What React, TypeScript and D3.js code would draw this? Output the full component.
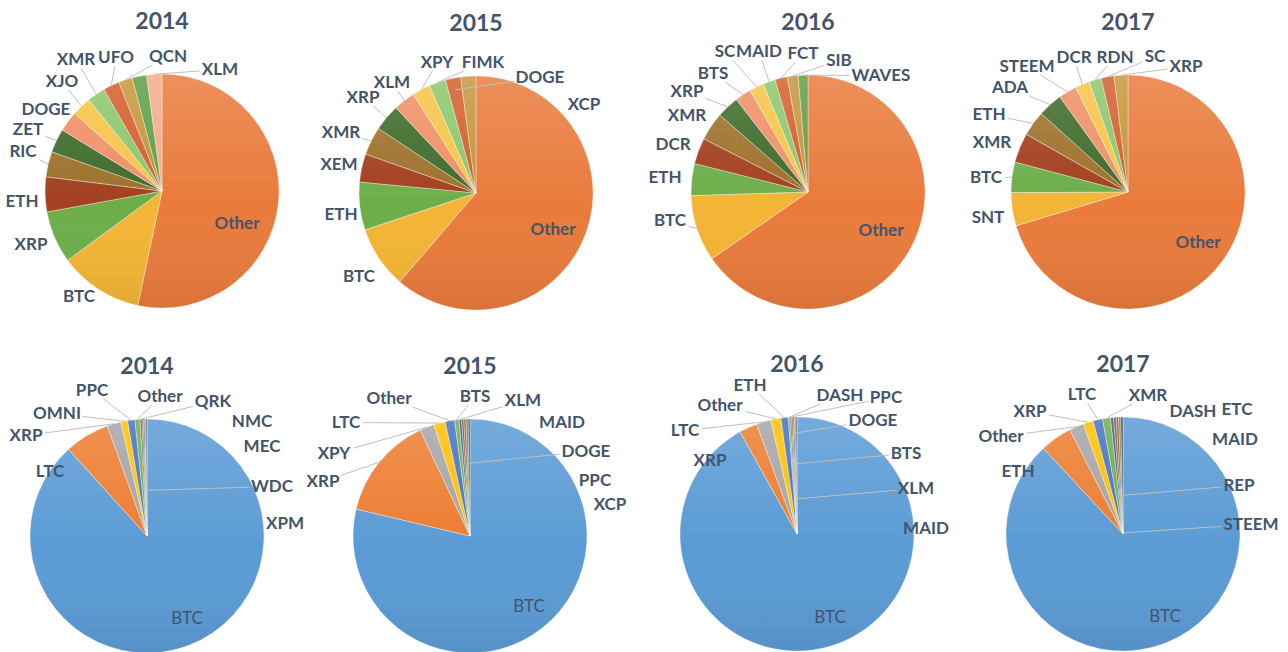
import React, { useEffect, useRef } from 'react';
import * as d3 from 'd3';

// titles
const years = ['2014', '2015', '2016', '2017'];

// top row - share of each coin (percent)
const top2014Names = ['Other', 'BTC', 'XRP', 'ETH', 'RIC', 'ZET', 'DOGE', 'XJO', 'XMR', 'UFO', 'QCN', '', 'XLM'];
const top2014Values = [53.3, 11.6, 7.2, 4.8, 3.5, 3.3, 2.8, 2.7, 2.5, 2.25, 1.9, 2.0, 2.1];

const top2015Names = ['Other', 'BTC', 'ETH', 'XEM', 'XMR', 'XRP', 'XLM', 'XPY', 'FIMK', 'DOGE', 'XCP'];
const top2015Values = [61.3, 8.6, 6.6, 3.9, 3.9, 3.7, 3.0, 2.5, 2.3, 2.1, 2.1];

const top2016Names = ['Other', 'BTC', 'ETH', 'DCR', 'XMR', 'XRP', 'BTS', 'SC', 'MAID', 'FCT', 'SIB', 'WAVES'];
const top2016Values = [65.4, 9.2, 4.4, 3.6, 3.9, 3.1, 2.25, 2.0, 1.7, 1.7, 1.5, 1.35];

const top2017Names = ['Other', 'SNT', 'BTC', 'XMR', 'ETH', 'ADA', 'STEEM', 'DCR', 'RDN', 'SC', 'XRP'];
const top2017Values = [70.4, 4.6, 4.2, 4.1, 3.5, 3.4, 2.5, 2.0, 1.7, 1.8, 1.9];

// bottom row
const bot2014Names = ['BTC', 'LTC', 'XRP', 'OMNI', 'PPC', 'Other', 'QRK', 'NMC', 'MEC', 'WDC', 'XPM'];
const bot2014Values = [88.3, 6.2, 1.9, 0.95, 1.0, 0.7, 0.25, 0.2, 0.2, 0.15, 0.15];

const bot2015Names = ['BTC', 'XRP', 'XPY', 'LTC', 'Other', 'BTS', 'XLM', 'MAID', 'DOGE', 'PPC', 'XCP'];
const bot2015Values = [78.7, 14.3, 2.0, 1.6, 1.3, 0.6, 0.35, 0.3, 0.3, 0.3, 0.25];

const bot2016Names = ['BTC', 'XRP', 'LTC', 'Other', 'ETH', 'DASH', 'PPC', 'DOGE', 'BTS', 'XLM', 'MAID'];
const bot2016Values = [91.9, 2.5, 2.0, 1.4, 1.0, 0.25, 0.2, 0.2, 0.2, 0.2, 0.15];

const bot2017Names = ['BTC', 'ETH', 'Other', 'XRP', 'LTC', 'XMR', 'DASH', 'ETC', 'MAID', 'REP', 'STEEM'];
const bot2017Values = [88.1, 4.4, 2.0, 1.4, 1.3, 1.1, 0.4, 0.35, 0.35, 0.3, 0.3];

const topColors = ['#E97B3C', '#F3B535', '#6DAE4A', '#A3401F', '#9E712B', '#3F6B2B', '#F08F66',
    '#F7C447', '#8DC66C', '#D45F2C', '#C4963A', '#5F9E45', '#F3AC8C'];
const bottomColors = ['#5B9BD5', '#ED7D31', '#A5A5A5', '#FFC000', '#4472C4', '#70AD47',
    '#255E91', '#9E480E', '#636363', '#997300', '#264478'];

// label layout: [dx, dy] from pie centre, and leader (0 none, else depth along the slice as fraction of radius)
const top2014Layout = [[75, 38, 0], [-83, 111, 0], [-131, 59, 0], [-140, 16, 0], [-139, -34, 1], [-134, -56, 1],
    [-116, -76, 0], [-100, -104, 1], [-86, -126, 1], [-46, -128, 1], [6, -129, 1], [0, 0, 0], [58, -116, 1]];
const top2015Layout = [[77, 42, 0], [-117, 89, 0], [-135, 27, 0], [-137, -23, 0], [-135, -55, 1], [-113, -90, 1],
    [-84, -105, 1], [-39, -125, 1], [7, -125, 1], [64, -110, 0.9], [108, -83, 0]];
const top2016Layout = [[73, 44, 0], [-138, 34, 1], [-143, -9, 0], [-135, -42, 0], [-121, -71, 0], [-121, -95, 1],
    [-95, -113, 1], [-83, -135, 1], [-49, -135, 1], [-5, -133, 1], [31, -126, 1], [73, -111, 1]];
const top2017Layout = [[70, 56, 0], [-140, 31, 0], [-142, -9, 1], [-136, -44, 0], [-139, -72, 1], [-118, -99, 1],
    [-101, -120, 1], [-54, -129, 1], [-13, -129, 1], [27, -130, 1], [58, -120, 1]];
const bot2014Layout = [[40, 88, 0], [-97, -59, 0], [-121, -95, 1], [-90, -117, 1], [-55, -140, 1], [13, -134, 1],
    [66, -129, 1], [105, -109, 0], [115, -84, 0], [125, -44, 0.39], [138, -7, 0]];
const bot2015Layout = [[59, 76, 0], [-147, -49, 1], [-136, -77, 1], [-124, -108, 1], [-81, -132, 1], [5, -134, 1],
    [53, -130, 1], [92, -108, 0], [116, -79, 0.62], [125, -50, 0], [140, -26, 0]];
const bot2016Layout = [[33, 89, 0], [-87, -68, 0], [-112, -98, 1], [-77, -123, 1], [-47, -143, 1], [43, -133, 1],
    [89, -131, 1], [76, -108, 0.86], [109, -75, 0.6], [119, -40, 0.3], [129, 0, 0]];
const bot2017Layout = [[42, 88, 0], [-105, -57, 0], [-122, -92, 1], [-93, -117, 1], [-41, -134, 1], [25, -133, 1],
    [70, -117, 0], [114, -119, 0], [112, -89, 0], [116, -43, 0.33], [128, -4, 0.01]];

const panels = [
    { title: years[0], names: top2014Names, values: top2014Values, colors: topColors, layout: top2014Layout, cx: 162, cy: 191, innerBold: true },
    { title: years[1], names: top2015Names, values: top2015Values, colors: topColors, layout: top2015Layout, cx: 476, cy: 193, innerBold: true },
    { title: years[2], names: top2016Names, values: top2016Values, colors: topColors, layout: top2016Layout, cx: 808, cy: 192, innerBold: true },
    { title: years[3], names: top2017Names, values: top2017Values, colors: topColors, layout: top2017Layout, cx: 1128, cy: 192, innerBold: true },
    { title: years[0], names: bot2014Names, values: bot2014Values, colors: bottomColors, layout: bot2014Layout, cx: 147, cy: 536, innerBold: false },
    { title: years[1], names: bot2015Names, values: bot2015Values, colors: bottomColors, layout: bot2015Layout, cx: 470, cy: 536, innerBold: false },
    { title: years[2], names: bot2016Names, values: bot2016Values, colors: bottomColors, layout: bot2016Layout, cx: 797, cy: 534, innerBold: false },
    { title: years[3], names: bot2017Names, values: bot2017Values, colors: bottomColors, layout: bot2017Layout, cx: 1123, cy: 534, innerBold: false },
];

const W = 1288, H = 652, R = 117;
const textColor = '#44546A';
const font = 'Lato, "Open Sans", sans-serif';

export default function App() {
    const ref = useRef<SVGSVGElement>(null);

    useEffect(() => {
        if (!ref.current) return;
        const svg = d3.select(ref.current);
        svg.selectAll('*').remove();

        // soft top-to-bottom shading like the office pies
        const grad = svg.append('defs').append('linearGradient').attr('id', 'shade')
            .attr('x1', 0).attr('y1', 0).attr('x2', 0).attr('y2', 1);
        grad.append('stop').attr('offset', '0%').attr('stop-color', '#fff').attr('stop-opacity', 0.16);
        grad.append('stop').attr('offset', '55%').attr('stop-color', '#fff').attr('stop-opacity', 0);
        grad.append('stop').attr('offset', '100%').attr('stop-color', '#000').attr('stop-opacity', 0.07);

        const pie = d3.pie<number>().sort(null).value(d => d);
        const arc = d3.arc<d3.PieArcDatum<number>>().innerRadius(0).outerRadius(R);

        panels.forEach(p => {
            const g = svg.append('g').attr('transform', `translate(${p.cx},${p.cy})`);
            const arcs = pie(p.values);

            g.selectAll('path.slice')
                .data(arcs)
                .join('path')
                .attr('class', 'slice')
                .attr('d', arc)
                .attr('fill', (d, i) => p.colors[i % p.colors.length])
                .attr('stroke', '#fff')
                .attr('stroke-width', 0.6)
                .attr('stroke-opacity', 0.6);

            g.append('circle').attr('r', R).attr('fill', 'url(#shade)').style('pointer-events', 'none');

            g.append('text')
                .attr('x', 0).attr('y', -R - 45)
                .attr('text-anchor', 'middle')
                .style('font-family', font).style('font-weight', 700).style('font-size', '23px')
                .attr('fill', textColor)
                .text(p.title);

            const lines = g.append('g');
            arcs.forEach((a, i) => {
                const name = p.names[i];
                if (!name) return;
                const [dx, dy, leader] = p.layout[i];
                const inner = i === 0;
                const t = g.append('text')
                    .attr('x', dx).attr('y', dy)
                    .attr('text-anchor', 'middle')
                    .style('font-family', font)
                    .style('font-weight', inner && !p.innerBold ? 400 : 700)
                    .style('font-size', '17px')
                    .attr('fill', textColor)
                    .text(name);
                if (!leader) return;

                // leader from the label box edge to a point on the slice's middle
                const mid = (a.startAngle + a.endAngle) / 2;
                const tx = Math.sin(mid) * R * leader;
                const ty = -Math.cos(mid) * R * leader;
                const bb = (t.node() as SVGTextElement).getBBox();
                const bcx = bb.x + bb.width / 2, bcy = bb.y + bb.height / 2 + 1;
                const vx = tx - bcx, vy = ty - bcy;
                const s = Math.min(
                    Math.abs(vx) > 0.01 ? (bb.width / 2 + 2) / Math.abs(vx) : Infinity,
                    Math.abs(vy) > 0.01 ? (bb.height / 2 - 2) / Math.abs(vy) : Infinity
                );
                lines.append('line')
                    .attr('x1', bcx + vx * s).attr('y1', bcy + vy * s)
                    .attr('x2', tx).attr('y2', ty)
                    .attr('stroke', '#BFBFBF').attr('stroke-width', 1);
            });
        });
    });

    return (
        <svg ref={ref} width={W} height={H}
            style={{ position: 'absolute', left: 0, top: 0, background: '#fff' }} />
    );
}
